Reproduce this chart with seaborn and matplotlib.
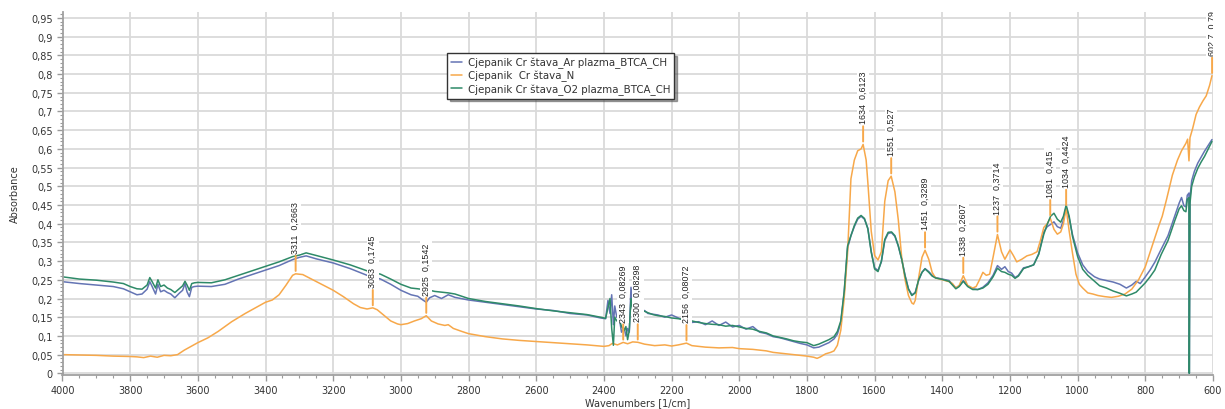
import matplotlib
matplotlib.use("Agg")
import matplotlib.pyplot as plt
import numpy as np
import pandas as pd
import seaborn as sns
from matplotlib.ticker import MultipleLocator, FuncFormatter

# ---------------- data ----------------
series_names = ["Cjepanik Cr štava_Ar plazma_BTCA_CH",
                "Cjepanik  Cr štava_N",
                "Cjepanik Cr štava_O2 plazma_BTCA_CH"]

# shared wavenumber grid of the two plasma-treated samples
wn_plasma = [
    4000, 3950, 3900, 3850, 3820, 3800, 3780, 3765, 3750, 3742,
    3735, 3725, 3718, 3710, 3700, 3690, 3680, 3668, 3655, 3645,
    3638, 3632, 3625, 3618, 3610, 3600, 3560, 3520, 3480, 3440,
    3400, 3360, 3320, 3300, 3280, 3250, 3200, 3150, 3100, 3060,
    3030, 3000, 2970, 2950, 2935, 2925, 2915, 2900, 2880, 2860,
    2840, 2800, 2750, 2700, 2650, 2600, 2550, 2500, 2450, 2410,
    2395, 2388, 2382, 2377, 2372, 2368, 2362, 2355, 2348, 2340,
    2335, 2330, 2325, 2320, 2315, 2305, 2290, 2280, 2270, 2255,
    2240, 2220, 2200, 2180, 2160, 2140, 2120, 2100, 2080, 2060,
    2040, 2020, 2000, 1980, 1960, 1940, 1920, 1900, 1880, 1860,
    1840, 1820, 1800, 1780, 1765, 1750, 1735, 1720, 1710, 1700,
    1690, 1680, 1670, 1660, 1650, 1640, 1630, 1620, 1610, 1600,
    1590, 1580, 1570, 1560, 1550, 1540, 1530, 1520, 1510, 1500,
    1490, 1480, 1470, 1460, 1451, 1440, 1430, 1420, 1400, 1380,
    1360, 1350, 1338, 1325, 1310, 1295, 1280, 1265, 1250, 1237,
    1225, 1215, 1205, 1195, 1185, 1175, 1160, 1145, 1130, 1115,
    1100, 1090, 1080, 1070, 1060, 1050, 1042, 1034, 1025, 1015,
    1000, 985, 970, 950, 935, 915, 895, 875, 856, 840,
    827, 815, 800, 786, 772, 753, 733, 713, 700, 693,
    686, 680, 676, 671, 670, 668, 663, 655, 645, 635,
    625, 615, 603]

abs_ar = [
    .245, .240, .236, .232, .226, .218, .210, .212, .225, .245,
    .232, .212, .238, .218, .222, .216, .212, .202, .214, .222,
    .240, .218, .205, .230, .232, .233, .232, .238, .252, .264,
    .276, .288, .304, .310, .314, .306, .295, .280, .262, .252,
    .238, .222, .210, .206, .196, .190, .202, .208, .200, .210,
    .203, .196, .190, .184, .178, .172, .168, .160, .156, .148,
    .146, .195, .160, .210, .130, .180, .150, .150, .110, .120,
    .100, .120, .110, .230, .180, .165, .165, .168, .160, .158,
    .156, .150, .156, .148, .140, .136, .138, .130, .140, .128,
    .137, .124, .128, .118, .125, .110, .106, .098, .095, .090,
    .085, .080, .076, .068, .070, .076, .082, .092, .105, .135,
    .215, .335, .368, .392, .412, .420, .412, .388, .326, .282,
    .275, .298, .355, .374, .376, .366, .340, .305, .262, .226,
    .210, .216, .248, .270, .280, .272, .262, .256, .252, .248,
    .228, .234, .248, .234, .226, .224, .230, .242, .262, .288,
    .278, .285, .272, .268, .256, .262, .282, .285, .290, .320,
    .378, .392, .398, .405, .392, .388, .410, .445, .415, .370,
    .322, .290, .272, .258, .252, .248, .244, .238, .228, .236,
    .246, .240, .258, .276, .297, .332, .368, .421, .455, .470,
    .448, .445, .476, .482, .000, .470, .515, .540, .562, .578,
    .594, .608, .625]

abs_o2 = [
    .258, .252, .249, .244, .240, .232, .226, .225, .236, .256,
    .245, .228, .250, .232, .236, .228, .224, .216, .226, .234,
    .246, .236, .222, .240, .242, .243, .242, .250, .262, .274,
    .286, .298, .312, .316, .322, .315, .303, .290, .274, .265,
    .252, .238, .228, .226, .224, .222, .222, .219, .217, .215,
    .212, .200, .192, .186, .180, .173, .167, .162, .157, .150,
    .147, .175, .200, .120, .075, .150, .140, .145, .125, .115,
    .125, .090, .115, .200, .170, .165, .165, .166, .162, .157,
    .154, .152, .148, .146, .143, .140, .136, .133, .131, .130,
    .126, .128, .124, .120, .118, .112, .108, .100, .096, .092,
    .087, .084, .082, .074, .078, .084, .090, .098, .112, .140,
    .218, .340, .368, .395, .415, .422, .414, .386, .324, .279,
    .272, .300, .358, .377, .378, .368, .341, .305, .260, .225,
    .208, .215, .250, .270, .279, .270, .260, .255, .251, .246,
    .226, .232, .246, .232, .224, .224, .228, .238, .258, .281,
    .272, .270, .265, .262, .254, .260, .280, .285, .290, .318,
    .372, .398, .420, .428, .412, .404, .420, .450, .420, .365,
    .312, .278, .262, .246, .234, .228, .220, .214, .207, .212,
    .217, .228, .242, .258, .276, .318, .355, .408, .440, .448,
    .435, .432, .465, .470, .000, .455, .500, .525, .548, .565,
    .580, .598, .620]

wn_n = [
    4000, 3950, 3900, 3850, 3800, 3780, 3760, 3740, 3720, 3700,
    3680, 3660, 3640, 3620, 3600, 3570, 3540, 3500, 3460, 3420,
    3400, 3380, 3360, 3340, 3320, 3311, 3290, 3260, 3230, 3200,
    3170, 3140, 3120, 3100, 3083, 3070, 3050, 3030, 3010, 3000,
    2980, 2960, 2940, 2925, 2910, 2890, 2870, 2860, 2845, 2820,
    2800, 2750, 2700, 2650, 2600, 2550, 2500, 2450, 2400, 2385,
    2375, 2360, 2343, 2330, 2315, 2300, 2280, 2250, 2220, 2200,
    2180, 2156, 2140, 2100, 2060, 2020, 2000, 1960, 1920, 1900,
    1860, 1820, 1800, 1780, 1770, 1760, 1745, 1730, 1720, 1710,
    1700, 1690, 1680, 1670, 1660, 1650, 1640, 1634, 1625, 1620,
    1610, 1600, 1590, 1580, 1570, 1560, 1551, 1540, 1530, 1520,
    1510, 1500, 1490, 1485, 1480, 1470, 1460, 1451, 1440, 1430,
    1420, 1400, 1380, 1370, 1360, 1350, 1338, 1325, 1310, 1300,
    1290, 1280, 1270, 1260, 1250, 1237, 1225, 1215, 1205, 1200,
    1190, 1180, 1165, 1150, 1135, 1120, 1110, 1100, 1090, 1081,
    1070, 1060, 1050, 1042, 1034, 1025, 1015, 1005, 995, 985,
    970, 955, 940, 920, 900, 880, 860, 840, 820, 800,
    780, 760, 750, 737, 720, 705, 693, 680, 675, 671,
    668, 660, 650, 640, 630, 620, 610, 603]

abs_n = [
    .050, .049, .048, .046, .045, .044, .042, .046, .043, .048,
    .047, .050, .062, .072, .082, .095, .112, .138, .160, .180,
    .190, .196, .210, .235, .262, .266, .264, .250, .236, .222,
    .205, .186, .176, .172, .175, .170, .155, .140, .132, .130,
    .133, .140, .146, .154, .140, .132, .128, .130, .120, .112,
    .106, .098, .092, .088, .085, .082, .079, .076, .072, .074,
    .080, .076, .0827, .079, .084, .083, .078, .074, .076, .073,
    .076, .0807, .074, .070, .068, .069, .066, .064, .060, .056,
    .052, .048, .046, .043, .040, .044, .052, .056, .060, .075,
    .115, .200, .320, .520, .570, .595, .600, .612, .570, .510,
    .380, .315, .303, .325, .460, .515, .527, .485, .410, .310,
    .250, .208, .188, .185, .195, .255, .310, .329, .305, .270,
    .255, .250, .245, .240, .228, .235, .261, .235, .228, .232,
    .250, .270, .262, .265, .310, .371, .325, .305, .322, .330,
    .315, .298, .305, .314, .318, .325, .355, .390, .400, .415,
    .385, .372, .378, .400, .442, .380, .320, .265, .238, .228,
    .215, .212, .208, .205, .203, .206, .212, .225, .250, .285,
    .340, .395, .420, .466, .530, .570, .595, .615, .626, .568,
    .630, .655, .692, .712, .728, .742, .770, .796]

# peak picks shown on the N spectrum
peak_wn = [3311, 3083, 2925, 2343, 2300, 2156, 1634, 1551, 1451, 1338,
           1237, 1081, 1034, 602.7]
peak_abs = [0.2663, 0.1745, 0.1542, 0.08269, 0.08298, 0.08072, 0.6123,
            0.527, 0.3289, 0.2607, 0.3714, 0.415, 0.4424, 0.7955]

# ---------------- styling ----------------
sns.set_theme(style="white")
plt.rcParams["font.family"] = ["DejaVu Sans"]

C_AR = "#6474b4"
C_N = "#f7a84a"
C_O2 = "#2e8a68"

fig = plt.figure(figsize=(12.25, 4.1), dpi=100)
ax = fig.add_axes([62.5 / 1225, 1 - 376 / 410, (1213 - 62.5) / 1225, (376 - 13) / 410])

df_ar = pd.DataFrame({"wn": wn_plasma, "A": abs_ar})
df_o2 = pd.DataFrame({"wn": wn_plasma, "A": abs_o2})
df_n = pd.DataFrame({"wn": wn_n, "A": abs_n})

sns.lineplot(data=df_ar, x="wn", y="A", ax=ax, color=C_AR, lw=1.1,
             sort=False, estimator=None, label=series_names[0])
sns.lineplot(data=df_n, x="wn", y="A", ax=ax, color=C_N, lw=1.1,
             sort=False, estimator=None, label=series_names[1])
sns.lineplot(data=df_o2, x="wn", y="A", ax=ax, color=C_O2, lw=1.1,
             sort=False, estimator=None, label=series_names[2])

ax.set_xlim(4000, 600)
ax.set_ylim(-0.0045, 0.966)

ax.xaxis.set_major_locator(MultipleLocator(200))
ax.xaxis.set_minor_locator(MultipleLocator(50))
ax.yaxis.set_major_locator(MultipleLocator(0.05))
ax.yaxis.set_minor_locator(MultipleLocator(0.01))


def yfmt(v, pos):
    s = f"{v:.2f}".rstrip("0").rstrip(".")
    if s in ("-0", ""):
        s = "0"
    return s.replace(".", ",")


ax.yaxis.set_major_formatter(FuncFormatter(yfmt))
ax.xaxis.set_major_formatter(FuncFormatter(lambda v, p: f"{int(round(v))}"))

ax.tick_params(which="major", length=4, width=1, color="#9a9a9a",
               labelsize=7, labelcolor="#333333", pad=3, direction="out",
               bottom=True, left=True)
ax.tick_params(which="minor", length=2.2, width=0.8, color="#9a9a9a",
               direction="out", bottom=True, left=True)

ax.grid(True, which="major", color="#dadada", lw=1.3)
ax.set_axisbelow(True)
for s in ("top", "right"):
    ax.spines[s].set_visible(False)
for s in ("left", "bottom"):
    ax.spines[s].set_color("#a0a0a0")
    ax.spines[s].set_linewidth(1.3)

ax.set_xlabel("Wavenumbers [1/cm]", fontsize=7, color="#333333")
ax.set_ylabel("Absorbance", fontsize=7, color="#333333")
ax.xaxis.set_label_coords(0.5, -0.062)
ax.yaxis.set_label_coords(-0.037, 0.5)

# peak annotations
for w, v in zip(peak_wn, peak_abs):
    txt = f"{w:g}  {v:g}".replace(".", ",")
    ax.annotate("", xy=(w, v), xytext=(0, 13), textcoords="offset points",
                arrowprops=dict(arrowstyle="-", color=C_N, lw=1.4,
                                shrinkA=0, shrinkB=2), zorder=5)
    ax.annotate(txt, xy=(w, v), xytext=(0, 15), textcoords="offset points",
                rotation=90, ha="center", va="bottom", fontsize=6.4,
                family="Liberation Sans", color="#222222",
                bbox=dict(boxstyle="square,pad=0.15", fc="white", ec="none"),
                zorder=6, clip_on=True)

leg = ax.legend(loc="upper left", bbox_to_anchor=(447 / 1225, 1 - 54 / 410),
                bbox_transform=fig.transFigure, borderaxespad=0,
                fontsize=7.4, frameon=True, fancybox=False, shadow=True,
                edgecolor="#333333", framealpha=1, handlelength=1.1,
                handletextpad=0.6, borderpad=0.35, labelspacing=0.2)
leg.get_frame().set_linewidth(1.0)
for t in leg.get_texts():
    t.set_color("#333333")

fig.savefig("out.png", dpi=100)
